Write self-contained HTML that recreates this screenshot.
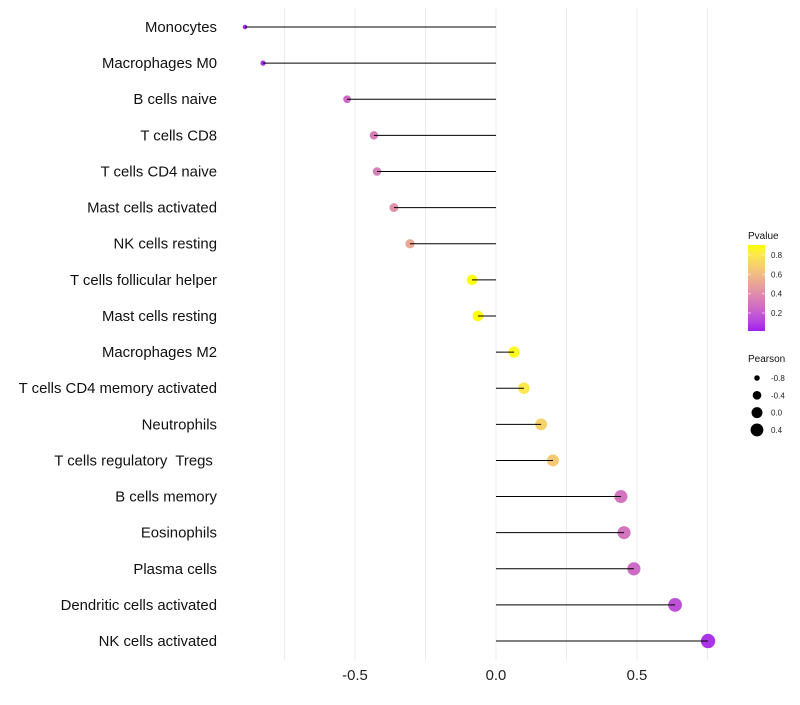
<!DOCTYPE html>
<html><head><meta charset="utf-8"><style>
body{margin:0;background:#fff;font-family:"Liberation Sans",sans-serif}
svg text{font-family:"Liberation Sans",sans-serif;white-space:pre}
</style></head><body>
<svg id="chart" width="800" height="700"></svg>
<script>
const categories=["Monocytes","Macrophages M0","B cells naive","T cells CD8","T cells CD4 naive","Mast cells activated","NK cells resting","T cells follicular helper","Mast cells resting","Macrophages M2","T cells CD4 memory activated","Neutrophils","T cells regulatory  Tregs ","B cells memory","Eosinophils","Plasma cells","Dendritic cells activated","NK cells activated"];
const pearson=[-0.89,-0.826,-0.528,-0.433,-0.422,-0.362,-0.305,-0.085,-0.064,0.064,0.099,0.16,0.202,0.443,0.454,0.489,0.635,0.752];
const pvalue=[0.03,0.05,0.25,0.33,0.34,0.42,0.52,0.9,0.9,0.88,0.8,0.7,0.66,0.3,0.3,0.26,0.16,0.06];
const xTicks=[-0.5,0,0.5];
const xTickLabels=["-0.5","0.0","0.5"];
const pTicks=[0.2,0.4,0.6,0.8];
const sizeTicks=[-0.8,-0.4,0.0,0.4];

const NS="http://www.w3.org/2000/svg";
const svg=document.getElementById('chart');
function mk(t,a,p){const e=document.createElementNS(NS,t);for(const k in a)e.setAttribute(k,a[k]);(p||svg).appendChild(e);return e;}
const x=v=>496+v*282;
const y=i=>27+i*36.12;
const r=v=>Math.sqrt(Math.max(1,30+28*v));
function toLab(h){let c=[1,3,5].map(i=>parseInt(h.substr(i,2),16)/255).map(v=>v>0.04045?Math.pow((v+0.055)/1.055,2.4):v/12.92);
let X=(c[0]*0.4124+c[1]*0.3576+c[2]*0.1805)/0.95047,Y=c[0]*0.2126+c[1]*0.7152+c[2]*0.0722,Z=(c[0]*0.0193+c[1]*0.1192+c[2]*0.9505)/1.08883;
const f=t=>t>0.008856?Math.cbrt(t):7.787*t+16/116;return [116*f(Y)-16,500*(f(X)-f(Y)),200*(f(Y)-f(Z))];}
function fromLab(L){let fy=(L[0]+16)/116,fx=fy+L[1]/500,fz=fy-L[2]/200;const g=t=>t*t*t>0.008856?t*t*t:(t-16/116)/7.787;
let X=g(fx)*0.95047,Y=g(fy),Z=g(fz)*1.08883;let c=[X*3.2406-Y*1.5372-Z*0.4986,-X*0.9689+Y*1.8758+Z*0.0415,X*0.0557-Y*0.2040+Z*1.0570];
return 'rgb('+c.map(v=>{v=v>0.0031308?1.055*Math.pow(v,1/2.4)-0.055:12.92*v;return Math.round(Math.max(0,Math.min(1,v))*255);}).join(',')+')';}
const lo=toLab('#a020f0'),hi=toLab('#ffff00');const pmin=0.014,pmax=0.903;
const col=p=>{let t=(p-pmin)/(pmax-pmin);t=Math.max(0,Math.min(1,t));return fromLab(lo.map((v,i)=>v+(hi[i]-v)*t));};
[-0.75,-0.5,-0.25,0,0.25,0.5,0.75].forEach(v=>{const g=mk('line',{x1:x(v),x2:x(v),y1:8,y2:660,stroke:'#ebebeb','stroke-width':1});
});
xTicks.forEach((v,i)=>{const t=mk('text',{x:x(v),y:680,'text-anchor':'middle','font-size':14.9,fill:'#222'});t.textContent=xTickLabels[i];
});
categories.forEach((c,i)=>{
const l=mk('text',{x:217,y:y(i)+5,'text-anchor':'end','font-size':14.9,fill:'#111'});l.textContent=c;

const p=mk('circle',{cx:x(pearson[i]),cy:y(i),r:r(pearson[i]),fill:col(pvalue[i])});

const s=mk('line',{x1:x(0),x2:x(pearson[i]),y1:y(i),y2:y(i),stroke:'#000','stroke-width':1});

});
const lt=mk('text',{x:748,y:239,'font-size':10,fill:'#111'});lt.textContent='Pvalue';

const defs=mk('defs',{});const gr=mk('linearGradient',{id:'pg',x1:0,y1:1,x2:0,y2:0},defs);
for(let k=0;k<=10;k++){mk('stop',{offset:k/10,'stop-color':col(pmin+(pmax-pmin)*k/10)},gr);}
const cb=mk('rect',{x:748,y:245,width:17,height:86,fill:'url(#pg)'});

const py=p=>331-(p-pmin)/(pmax-pmin)*86;
pTicks.forEach(p=>{mk('line',{x1:748,x2:751,y1:py(p),y2:py(p),stroke:'#fff','stroke-opacity':0.6});mk('line',{x1:762,x2:765,y1:py(p),y2:py(p),stroke:'#fff','stroke-opacity':0.6});
const t=mk('text',{x:771,y:py(p)+3,'font-size':8,fill:'#222'});t.textContent=p.toFixed(1);
});
const st=mk('text',{x:748,y:362,'font-size':10,fill:'#111'});st.textContent='Pearson';

sizeTicks.forEach((v,i)=>{const cy=378+i*17.3;const c=mk('circle',{cx:757,cy:cy,r:r(v),fill:'#000'});

const t=mk('text',{x:771,y:cy+3,'font-size':8,fill:'#222'});t.textContent=v.toFixed(1);
});
</script>
</body></html>
